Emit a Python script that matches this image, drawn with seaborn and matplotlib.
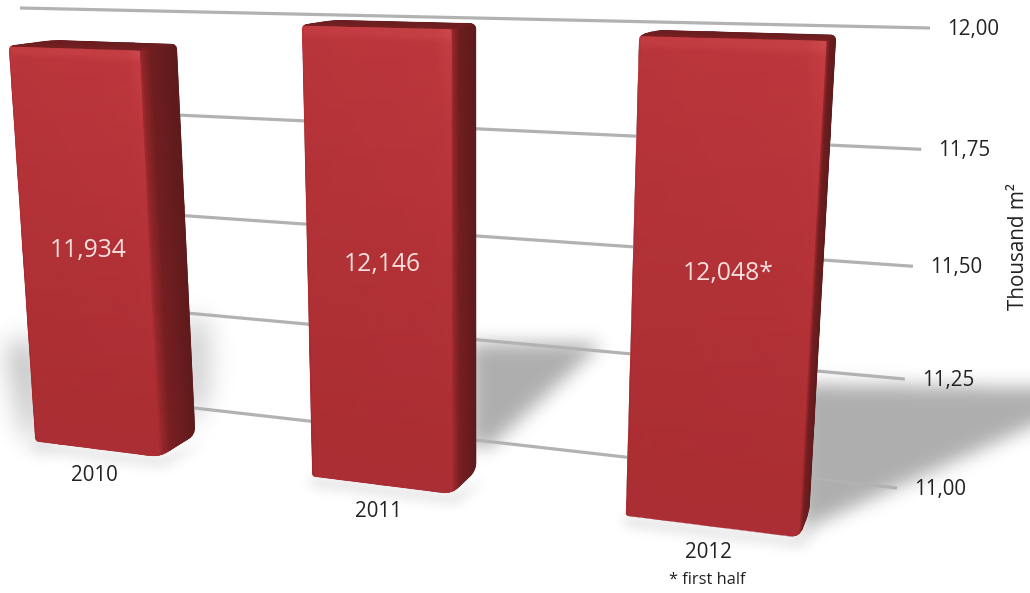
import numpy as np
import pandas as pd
import seaborn as sns
import matplotlib
matplotlib.use("Agg")
import matplotlib.pyplot as plt
from matplotlib.colors import LinearSegmentedColormap
from matplotlib.patches import PathPatch
from matplotlib.path import Path
from matplotlib.transforms import IdentityTransform, Transform

# values
years = ["2010", "2011", "2012"]
value_labels = ["11,934", "12,146", "12,048*"]
# where the bar tops sit against the printed axis (the picture is not to scale)
bar_tops = [11.905, 11.975, 11.97]
bar_base = 10.855
grid_values = [12.00, 11.75, 11.50, 11.25, 11.00]
grid_labels = ["12,00", "11,75", "11,50", "11,25", "11,00"]
footnote = "* first half"
axis_title = "Thousand m²"

W, H = 1030, 593
U_LEFT, U_RIGHT = -0.2, 2.52
BAR_WIDTH = 0.47
BAR_SHIFT = [-0.015, -0.003, 0.0]
BAR_EXTRA = [0.0, -0.005, 0.03]
VANISH = np.array([1050.0, -100.0])
DEPTH = 0.04
LABEL_V = [11.392, 11.413, 11.454]
LABEL_DX = [3, 4, 7]
TEXT_COLOR = "#222222"

sns.set_theme(style="white")
plt.rcParams["font.family"] = ["Open Sans", "DejaVu Sans"]


def fit_homography(src, dst):
    A, b = [], []
    for (u, v), (x, y) in zip(src, dst):
        A.append([u, v, 1, 0, 0, 0, -u * x, -v * x])
        A.append([0, 0, 0, u, v, 1, -u * y, -v * y])
        b += [x, y]
    return np.append(np.linalg.solve(np.array(A), np.array(b)), 1).reshape(3, 3)


class Perspective(Transform):
    """Chart plane (category, value) to display pixels, optionally pushed back in depth."""
    input_dims = 2
    output_dims = 2

    def __init__(self, hom, push=0.0):
        super().__init__()
        self.hom = hom
        self.push = push

    def transform_non_affine(self, values):
        values = np.asarray(values, dtype=float)
        p = np.c_[values, np.ones(len(values))] @ self.hom.T
        px = p[:, :2] / p[:, 2:]
        px = px + self.push * (VANISH - px)
        return np.c_[px[:, 0], H - px[:, 1]]


hom = fit_homography(
    [(U_LEFT, 12), (U_RIGHT, 12), (U_LEFT, 11), (U_RIGHT, 11)],
    [(20, 8), (930, 28), (45, 391), (897, 488)],
)
front = Perspective(hom)
back = Perspective(hom, DEPTH)


def blur(mask, sigma):
    fy = np.fft.fftfreq(mask.shape[0])[:, None]
    fx = np.fft.rfftfreq(mask.shape[1])[None, :]
    gain = np.exp(-2 * (np.pi * sigma) ** 2 * (fx ** 2 + fy ** 2))
    return np.fft.irfft2(np.fft.rfft2(mask) * gain, s=mask.shape)


def soft_shadow(polygons):
    pad = 60
    xx, yy = np.meshgrid(np.arange(-pad, W + pad) + 0.5, np.arange(-pad, H + pad) + 0.5)
    pts = np.c_[xx.ravel(), yy.ravel()]
    keep = np.ones_like(xx)
    for poly, sigma, strength in polygons:
        mask = Path(poly).contains_points(pts).reshape(xx.shape).astype(float)
        keep *= 1 - strength * np.clip(blur(mask, sigma), 0, 1)
    alpha = (1 - keep)[pad:-pad, pad:-pad]
    img = np.zeros((H, W, 4))
    img[..., 3] = alpha
    return img


def rounded(points, radius):
    verts, codes = [], []
    n = len(points)
    for i, (p, r) in enumerate(zip(points, radius)):
        prev_p, next_p = points[i - 1], points[(i + 1) % n]
        a = p + r * (prev_p - p) / np.linalg.norm(prev_p - p)
        b = p + r * (next_p - p) / np.linalg.norm(next_p - p)
        verts += [a, p, b]
        codes += [Path.MOVETO if i == 0 else Path.LINETO, Path.CURVE3, Path.CURVE3]
    verts.append(verts[0])
    codes.append(Path.CLOSEPOLY)
    return Path(np.array(verts), codes)


shade_cmap = LinearSegmentedColormap.from_list(
    "bar_red",
    [(0.0, "#3f0f10"), (0.15, "#5a1a1b"), (0.3, "#7a2023"), (0.55, "#ab2e33"),
     (0.75, "#c0393f"), (0.9, "#cc4a4e"), (1.0, "#e06a6c")],
)

fig = plt.figure(figsize=(W / 100, H / 100), dpi=100, facecolor="white")
ax = fig.add_axes([0, 0, 1, 1])
ax.patch.set_visible(False)

df = pd.DataFrame({"pos": np.arange(len(years)), "top": bar_tops})
sns.barplot(data=df, x="pos", y="top", color="#ab2e33", saturation=1, width=BAR_WIDTH,
            native_scale=True, ax=ax, zorder=4)

# grid lines and their labels
for value, label in zip(grid_values, grid_labels):
    ax.plot([U_LEFT, U_RIGHT], [value, value], transform=front, color="#b2b2b2", lw=2.3,
            solid_capstyle="butt", zorder=2)
    ax.annotate(label, xy=(U_RIGHT, value), xycoords=front, xytext=(31, -1), textcoords="offset points",
                ha="center", va="center", fontsize=14.8, color=TEXT_COLOR)

shadows = [
    ([(8, 345), (35, 340), (40, 445), (25, 430)], 14, 0.32),
    ([(185, 320), (205, 320), (205, 395), (185, 430)], 14, 0.28),
    ([(470, 343), (603, 343), (490, 447), (470, 447)], 9, 0.32),
    ([(800, 384), (1090, 388), (1090, 400), (800, 531)], 9, 0.32),
]

s_grid = np.array([0, 0.015, 0.2, 0.5, 0.9, 0.97, 1.0])
t_grid = np.array([0, 0.01, 0.1, 0.3, 0.5, 0.7, 0.9, 0.97, 0.985, 1.0])
depth_grid = np.array([0, 0.08, 0.3, 1.0])

for i, patch in enumerate(ax.patches):
    x0 = patch.get_x() + BAR_SHIFT[i]
    w = patch.get_width() + BAR_EXTRA[i]
    top = patch.get_height()
    patch.set_x(x0)
    patch.set_width(w)
    patch.set_y(bar_base)
    patch.set_height(top - bar_base)
    patch.set_transform(front)

    corners = [(x0, top), (x0 + w, top), (x0 + w, bar_base), (x0, bar_base)]
    f_tl, f_tr, f_br, f_bl = front.transform(np.array(corners))
    b_tl, b_tr, b_br, _ = back.transform(np.array(corners))

    # soft halo under the base
    px = lambda q: (q[0], H - q[1])
    shadows.append(([px(f_bl), px(f_br), px(b_br + [10, -8]), px(f_br + [4, -10]), px(f_bl + [-4, -10])], 6, 0.12))

    outline = rounded(np.array([f_tl, b_tl, b_tr, b_br, f_br, f_bl]), [5, 10, 6, 8, 10, 3])
    silhouette = PathPatch(outline, transform=IdentityTransform(), fc="#5a1a1b", ec="none", zorder=3)
    ax.add_patch(silhouette)
    patch.set_clip_path(silhouette)

    # front face
    s, t = np.meshgrid(s_grid, t_grid)
    u = x0 + w * s
    v = bar_base + (top - bar_base) * t
    xy = front.transform(np.c_[u.ravel(), v.ravel()]).reshape(u.shape + (2,))
    c = 0.545 + 0.14 * t ** 1.5 + 0.05 * s * t
    c = c + 0.08 * ((t > 0.98) & (s > 0.01))
    c = c + 0.06 * (s > 0.96) * t ** 4
    c = c - 0.05 * (s < 0.01)
    mesh = ax.pcolormesh(xy[..., 0], xy[..., 1], c, shading="gouraud", cmap=shade_cmap, vmin=0, vmax=1,
                         transform=IdentityTransform(), zorder=5)
    mesh.set_clip_path(silhouette)

    # right side and top faces, blended in pixels between front and back edges
    d, t = np.meshgrid(depth_grid, np.linspace(0, 1, 6))
    v = bar_base + (top - bar_base) * t
    edge_front = front.transform(np.c_[np.full(v.size, x0 + w), v.ravel()]).reshape(v.shape + (2,))
    edge_back = back.transform(np.c_[np.full(v.size, x0 + w), v.ravel()]).reshape(v.shape + (2,))
    side = edge_front + d[..., None] * (edge_back - edge_front)
    c = 0.17 + 0.3 * (1 - d) ** 4 + 0.08 * (1 - t) * (1 - d)
    mesh = ax.pcolormesh(side[..., 0], side[..., 1], c, shading="gouraud", cmap=shade_cmap, vmin=0, vmax=1,
                         transform=IdentityTransform(), zorder=5)
    mesh.set_clip_path(silhouette)

    d, s = np.meshgrid(np.array([0, 0.3, 1.0]), np.linspace(0, 1, 4))
    u = x0 + w * s
    edge_front = front.transform(np.c_[u.ravel(), np.full(u.size, top)]).reshape(u.shape + (2,))
    edge_back = back.transform(np.c_[u.ravel(), np.full(u.size, top)]).reshape(u.shape + (2,))
    top_face = edge_front + d[..., None] * (edge_back - edge_front)
    c = 0.28 - 0.06 * d
    mesh = ax.pcolormesh(top_face[..., 0], top_face[..., 1], c, shading="gouraud", cmap=shade_cmap, vmin=0, vmax=1,
                         transform=IdentityTransform(), zorder=5)
    mesh.set_clip_path(silhouette)

    # year below the bar, value on the face
    ax.annotate(years[i], xy=(x0 + w / 2, bar_base), xycoords=front, xytext=(-2, -19), textcoords="offset points",
                ha="center", va="center", fontsize=14.8, color=TEXT_COLOR)
    ax.annotate(value_labels[i], xy=(x0 + w / 2, LABEL_V[i]), xycoords=front, xytext=(LABEL_DX[i] * 0.72, 0),
                textcoords="offset points", ha="center", va="center", fontsize=17.8, color="#f5dfdc", zorder=8)
    if i == 2:
        ax.annotate(footnote, xy=(x0 + w / 2, bar_base), xycoords=front, xytext=(-3, -38.5), textcoords="offset points",
                    ha="center", va="center", fontsize=11.8, color=TEXT_COLOR)

fig.figimage(soft_shadow(shadows), 0, 0, origin="upper", zorder=-1)
fig.text(1018 / W, 1 - 247 / H, axis_title, rotation=90, ha="center", va="center", fontsize=14.9, color=TEXT_COLOR)

ax.set_xlim(-0.5, 2.5)
ax.set_ylim(10.5, 12.5)
ax.axis("off")
fig.savefig("out.png", dpi=100, facecolor="white")
